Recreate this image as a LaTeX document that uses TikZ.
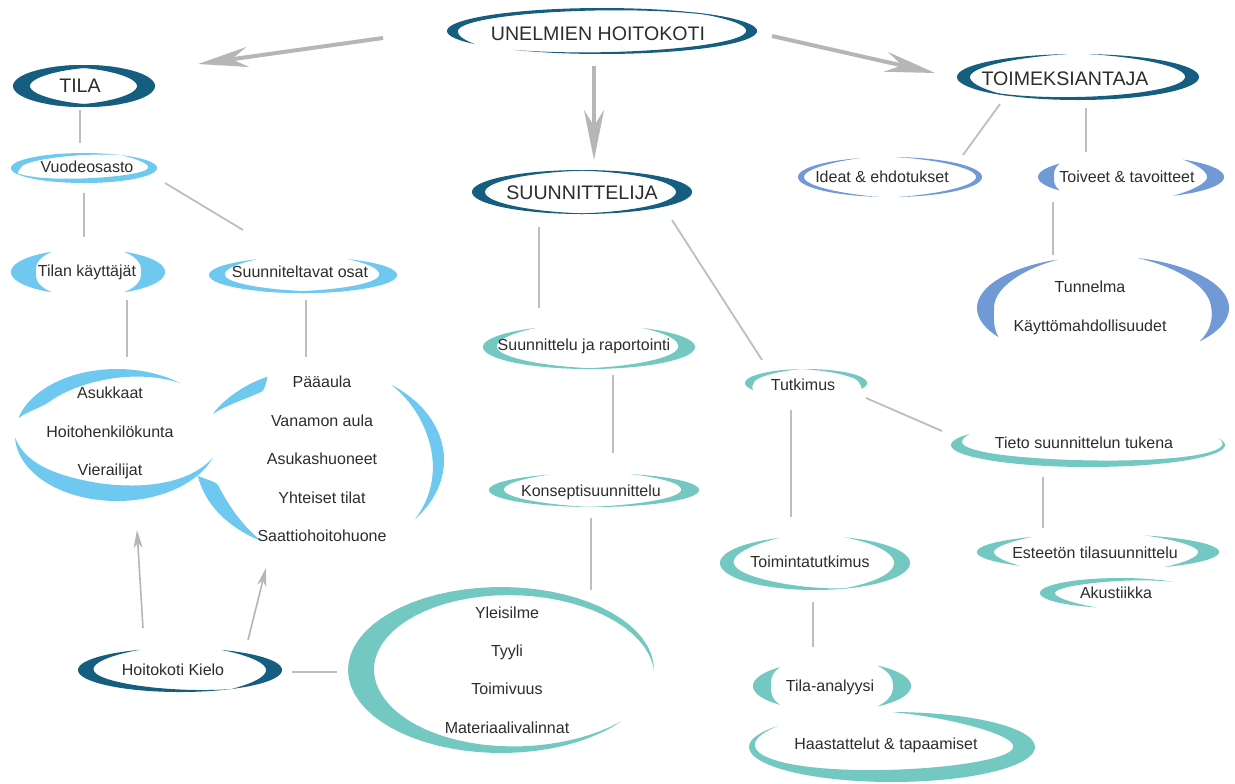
\documentclass[tikz,border=0pt]{standalone}
\usepackage{fontspec}
\setmainfont{Liberation Sans}
\usetikzlibrary{arrows.meta,calc}
\definecolor{dkb}{RGB}{22,94,128}
\definecolor{ltb}{RGB}{110,200,240}
\definecolor{tea}{RGB}{115,200,193}
\definecolor{stb}{RGB}{112,153,214}
\definecolor{lin}{RGB}{190,190,190}
\definecolor{arr}{RGB}{182,182,182}
\definecolor{txt}{RGB}{45,45,45}
% crescent: {cx,cy}{a}{b}{t1}{tpeak}{t2}{wx}{wy}{colour}, t1<tpeak<t2
\newcommand\swoosh[9]{%
  \begin{scope}[shift={(#1)}]
  \fill[#9] plot[domain=#4:#6,samples=60,variable=\q] ({#2*cos(\q)},{-#3*sin(\q)})
    -- plot[domain=#4:#6,samples=60,variable=\q]
    ({(#2-#7*swf(#4+#6-\q,#4,#5,#6))*cos(#4+#6-\q)},{-(#3-#8*swf(#4+#6-\q,#4,#5,#6))*sin(#4+#6-\q)}) -- cycle;
  \end{scope}}
\tikzset{
  lbl/.style={font=\fontsize{8}{19.2}\selectfont, text=txt, align=center, inner sep=0pt},
  big/.style={font=\fontsize{9.8}{12}\selectfont, text=txt, inner sep=0pt},
  conn/.style={draw=lin, line width=0.9pt},
  bigarrow/.style={draw=arr, line width=2pt, -{Stealth[length=25pt,width=10pt,inset=8pt]}},
  smallarrow/.style={draw=arr, line width=0.8pt, -{Stealth[length=9pt,width=4.5pt,inset=2.5pt]}}
}
\begin{document}
\begin{tikzpicture}[x=0.5pt,y=-0.5pt,
  declare function={swf(\zu,\zs,\zp,\ze)=((\zu)<=(\zp)) ? sin(90*min(1,max(0,((\zu)-(\zs))/((\zp)-(\zs))))) : sin(90*min(1,max(0,((\ze)-(\zu))/((\ze)-(\zp)))));}]
\useasboundingbox (0,0) rectangle (1235,783);
\fill[white] (0,0) rectangle (1235,783);

% ---- crescents ----
\swoosh{602,31}{155}{23}{30}{178}{215}{11}{4}{dkb}
\swoosh{602,31}{155}{23}{-125}{-5}{55}{11}{4}{dkb}
\swoosh{84,86}{71}{21}{60}{180}{300}{17}{8}{dkb}
\swoosh{84,86}{71}{21}{-120}{0}{120}{18}{8}{dkb}
\swoosh{1078,77}{121}{23}{95}{180}{235}{13}{5}{dkb}
\swoosh{1078,77}{121}{23}{-150}{-5}{85}{14}{5}{dkb}
\swoosh{582,192}{110}{22}{80}{180}{280}{13}{4}{dkb}
\swoosh{582,192}{110}{22}{-100}{0}{100}{16}{4}{dkb}

\swoosh{84,168}{73}{15}{60}{175}{205}{10}{5}{ltb}
\swoosh{84,168}{73}{15}{190}{335}{420}{10}{6}{ltb}
\swoosh{88,272}{77}{23}{118}{180}{242}{25}{9}{ltb}
\swoosh{88,272}{77}{23}{-62}{0}{62}{24}{9}{ltb}
\swoosh{303,275}{94}{18}{119}{185}{300}{16}{5}{ltb}
\swoosh{303,275}{94}{18}{-120}{-5}{62}{18}{5}{ltb}
\swoosh{117,435}{102}{66}{52}{140}{165}{14}{14}{ltb}
\swoosh{117,435}{102}{66}{182}{250}{340}{15}{17}{ltb}
\swoosh{320,460}{124}{92}{115}{122}{150}{12}{12}{ltb}
\swoosh{320,460}{124}{92}{190}{200}{242}{16}{16}{ltb}
\swoosh{320,460}{124}{92}{-40}{10}{55}{12}{10}{ltb}
\swoosh{180,670}{102}{22}{113}{190}{300}{16}{6}{dkb}
\swoosh{180,670}{102}{22}{-60}{0}{66}{16}{6}{dkb}

\swoosh{890,177}{92}{20}{109}{180}{263}{6}{4}{stb}
\swoosh{890,177}{92}{20}{-85}{0}{87}{6}{4}{stb}
\swoosh{1131,177}{93}{21}{140}{180}{220}{16}{8}{stb}
\swoosh{1131,177}{93}{21}{-63}{0}{56}{17}{8}{stb}
\swoosh{1103,308}{126}{52}{111}{180}{214}{17}{10}{stb}
\swoosh{1103,308}{126}{52}{-40}{5}{74}{18}{10}{stb}

\swoosh{589,347}{106}{22}{120}{185}{280}{14}{5}{tea}
\swoosh{589,347}{106}{22}{-100}{-5}{60}{17}{5}{tea}
\swoosh{594,490}{105}{17}{115}{185}{268}{15}{4}{tea}
\swoosh{594,490}{105}{17}{-95}{-5}{70}{18}{4}{tea}
\swoosh{501,670}{153}{83}{0}{188}{322}{26}{12}{tea}
\swoosh{806,383}{61}{14}{95}{175}{210}{9}{4}{tea}
\swoosh{806,383}{61}{14}{-25}{5}{95}{8}{4}{tea}
\swoosh{1088,445}{137}{22}{150}{205}{378}{17}{8}{tea}
\swoosh{815,563}{95}{27}{112}{190}{290}{14}{8}{tea}
\swoosh{815,563}{95}{27}{-75}{0}{72}{16}{6}{tea}
\swoosh{1098,552}{121}{18}{123}{180}{230}{17}{6}{tea}
\swoosh{1098,552}{121}{18}{-57}{0}{67}{21}{6}{tea}
\swoosh{1120,593}{80}{15}{48}{180}{253}{15}{6}{tea}
\swoosh{832,686}{79}{25}{131}{180}{229}{18}{7}{tea}
\swoosh{832,686}{79}{25}{-55}{0}{55}{18}{7}{tea}
\swoosh{892,747}{143}{35}{143}{352}{450}{22}{15}{tea}

% ---- nodes ----
\node[big] (home) at (598,34) {UNELMIEN HOITOKOTI};
\node[big] (tila) at (80,86) {TILA};
\node[big] (toim) at (1065,79) {TOIMEKSIANTAJA};
\node[big] (suun) at (582,193) {SUUNNITTELIJA};
\node[lbl] (vuode) at (87,167) {Vuodeosasto};
\node[lbl] (kayt) at (87,272) {Tilan käyttäjät};
\node[lbl] (osat) at (300,272) {Suunniteltavat osat};
\node[lbl] (asuk) at (110,433) {Asukkaat\\Hoitohenkilökunta\\Vierailijat};
\node[lbl] (paa) at (322,459) {Pääaula\\Vanamon aula\\Asukashuoneet\\Yhteiset tilat\\Saattiohoitohuone};
\node[lbl] (kielo) at (173,670) {Hoitokoti Kielo};
\node[lbl] (ideat) at (882,177) {Ideat \& ehdotukset};
\node[lbl] (toiv) at (1127,177) {Toiveet \& tavoitteet};
\node[lbl] (tunn) at (1090,308) {Tunnelma\\Käyttömahdollisuudet};
\node[lbl] (suunrap) at (584,346) {Suunnittelu ja raportointi};
\node[lbl] (konsepti) at (591,492) {Konseptisuunnittelu};
\node[lbl] (yleis) at (507,670) {Yleisilme\\Tyyli\\Toimivuus\\Materiaalivalinnat};
\node[lbl] (tutk) at (803,385) {Tutkimus};
\node[lbl] (tieto) at (1084,443) {Tieto suunnittelun tukena};
\node[lbl] (toiminta) at (810,562) {Toimintatutkimus};
\node[lbl] (esteeton) at (1095,553) {Esteetön tilasuunnittelu};
\node[lbl] (akust) at (1116,593) {Akustiikka};
\node[lbl] (tilaan) at (830,687) {Tila-analyysi};
\node[lbl] (haast) at (886,745) {Haastattelut \& tapaamiset};

% ---- arrows ----
\draw[bigarrow] ($(home)+(-215,4)$) -- ($(tila)+(118,-22)$);
\draw[bigarrow] ($(home)+(174,2)$) -- ($(toim)+(-130,-6)$);
\draw[bigarrow] ($(home)+(-4,32)$) -- ($(suun)+(12,-33)$);
\draw[smallarrow] ($(kielo)+(-30,-42)$) -- ($(asuk)+(27,97)$);
\draw[smallarrow] ($(kielo)+(75,-30)$) -- ($(paa)+(-56,109)$);

% ---- connectors ----
\draw[conn] ($(tila)+(0,24)$) -- ($(vuode)+(-7,-24)$);
\draw[conn] ($(vuode)+(-3,26)$) -- ($(kayt)+(-3,-35)$);
\draw[conn] ($(vuode)+(78,16)$) -- ($(osat)+(-57,-42)$);
\draw[conn] ($(kayt)+(40,28)$) -- ($(asuk)+(17,-76)$);
\draw[conn] ($(osat)+(6,28)$) -- ($(paa)+(-16,-102)$);
\draw[conn] ($(toim)+(-65,25)$) -- ($(ideat)+(81,-22)$);
\draw[conn] ($(toim)+(21,29)$) -- ($(toiv)+(-41,-25)$);
\draw[conn] ($(toiv)+(-74,25)$) -- ($(tunn)+(-37,-53)$);
\draw[conn] ($(suun)+(-43,34)$) -- ($(suunrap)+(-45,-38)$);
\draw[conn] ($(suun)+(90,27)$) -- ($(tutk)+(-41,-25)$);
\draw[conn] ($(suunrap)+(29,29)$) -- ($(konsepti)+(22,-39)$);
\draw[conn] ($(konsepti)+(0,26)$) -- ($(yleis)+(84,-80)$);
\draw[conn] ($(tutk)+(63,13)$) -- ($(tieto)+(-142,-12)$);
\draw[conn] ($(tutk)+(-12,25)$) -- ($(toiminta)+(-19,-45)$);
\draw[conn] ($(tieto)+(-41,34)$) -- ($(esteeton)+(-52,-25)$);
\draw[conn] ($(toiminta)+(3,40)$) -- ($(tilaan)+(-17,-40)$);
\draw[conn] ($(kielo)+(119,2)$) -- ($(yleis)+(-170,2)$);
\end{tikzpicture}
\end{document}
